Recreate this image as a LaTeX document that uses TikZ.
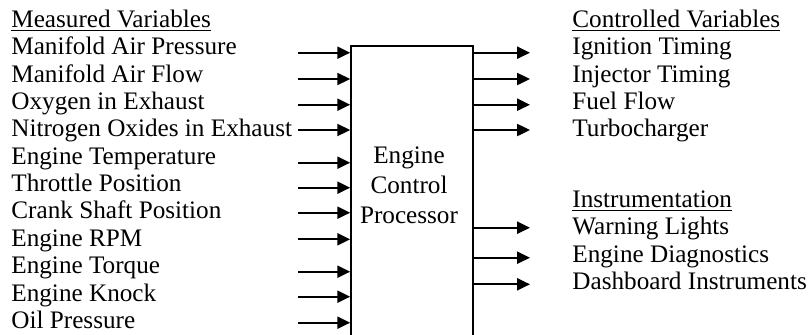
\documentclass[tikz,border=0pt]{standalone}
\usepackage{fontspec}
\setmainfont{Liberation Serif}
\usetikzlibrary{arrows.meta}
\begin{document}
\begin{tikzpicture}[x=0.5pt,y=-0.5pt,
  txt/.style={anchor=base west, inner sep=0pt, font=\fontsize{12.6}{13.7}\selectfont},
  ctxt/.style={anchor=base, inner sep=0pt, font=\fontsize{12.6}{13.7}\selectfont},
  sig/.style={line width=0.9pt, -{Triangle[length=6.4pt,width=6pt]}},
  procbox/.style={draw, line width=0.8pt, minimum width=61pt, minimum height=152pt, inner sep=0pt}]
\useasboundingbox (0,0) rectangle (810,334);

% processor box (runs off the bottom edge)
\node[procbox] (ecp) at (412,198) {};
\node[ctxt] (ecp1) at (409,163.3) {Engine};
\node[ctxt] (ecp2) at (409,193.3) {Control};
\node[ctxt] (ecp3) at (409,223.3) {Processor};

% measured variables
\node[txt] (mhead) at (11,27.5) {\underline{Measured Variables}};
\node[txt] (m1) at (11,54.85) {Manifold Air Pressure};
\node[txt] (m2) at (11,82.2) {Manifold Air Flow};
\node[txt] (m3) at (11,109.55) {Oxygen in Exhaust};
\node[txt] (m4) at (11,136.9) {Nitrogen Oxides in Exhaust};
\node[txt] (m5) at (11,164.25) {Engine Temperature};
\node[txt] (m6) at (11,191.6) {Throttle Position};
\node[txt] (m7) at (11,218.95) {Crank Shaft Position};
\node[txt] (m8) at (11,246.3) {Engine RPM};
\node[txt] (m9) at (11,273.65) {Engine Torque};
\node[txt] (m10) at (11,301) {Engine Knock};
\node[txt] (m11) at (11,328.35) {Oil Pressure};

% controlled variables
\node[txt] (chead) at (572,27.5) {\underline{Controlled Variables}};
\node[txt] (c1) at (572,54.85) {Ignition Timing};
\node[txt] (c2) at (572,82.2) {Injector Timing};
\node[txt] (c3) at (572,109.55) {Fuel Flow};
\node[txt] (c4) at (572,136.9) {Turbocharger};

% instrumentation
\node[txt] (ihead) at (572,207.3) {\underline{Instrumentation}};
\node[txt] (i1) at (572,234.8) {Warning Lights};
\node[txt] (i2) at (572,262.3) {Engine Diagnostics};
\node[txt] (i3) at (572,289.8) {Dashboard Instruments};

% input arrows
\foreach \k/\y in {1/52.7,2/79,3/104.7,4/130,5/162.7,6/187.7,7/212.7,8/239.3,9/271.7,10/296.7,11/322.7}{
  \coordinate (s\k) at (298,\y);
  \draw[sig] (s\k) -- (s\k -| ecp.west);
}

% output arrows
\foreach \k/\y in {1/52.7,2/79,3/104.7,4/130,5/227.7,6/257.7,7/284.3}{
  \coordinate (o\k) at (530,\y);
  \draw[sig] (o\k -| ecp.east) -- (o\k);
}
\end{tikzpicture}
\end{document}
